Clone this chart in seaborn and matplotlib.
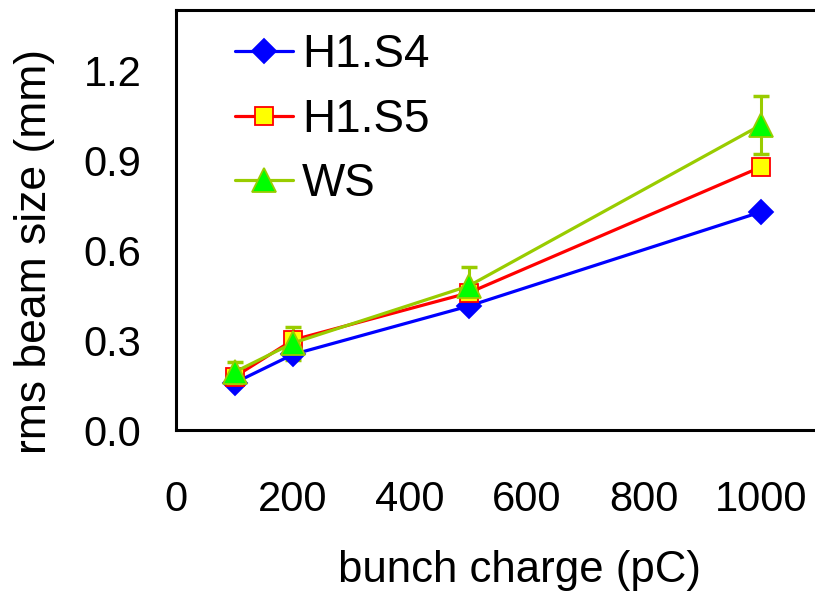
import matplotlib
matplotlib.use("Agg")
import matplotlib.pyplot as plt
import seaborn as sns
import pandas as pd
from matplotlib.lines import Line2D

charge = [100, 200, 500, 1000]
h1s4 = [0.157, 0.252, 0.413, 0.727]
h1s5 = [0.177, 0.300, 0.457, 0.877]
ws = [0.193, 0.290, 0.480, 1.017]
ws_err = [0.033, 0.055, 0.065, 0.098]
series_names = ["H1.S4", "H1.S5", "WS"]
xticks = [0, 200, 400, 600, 800, 1000]
yticks = [0.0, 0.3, 0.6, 0.9, 1.2]

sns.set_style("white")
plt.rcParams['font.family'] = ['Liberation Sans', 'DejaVu Sans']
plt.rcParams['text.color'] = 'black'
plt.rcParams['axes.labelcolor'] = 'black'

W, H = 815, 595
fig = plt.figure(figsize=(W / 100, H / 100), dpi=100)
ax = fig.add_axes([176 / W, (H - 430) / H, (W - 176) / W, 420 / H])

styles = {
    "H1.S4": dict(color="#0000FF", marker="D", ms=12.5, mfc="#0000FF", mec="#0000FF"),
    "H1.S5": dict(color="#FF0000", marker="s", ms=13.5, mfc="#FFFF00", mec="#FF0000"),
    "WS": dict(color="#99CC00", marker="^", ms=17, mfc="#00FF00", mec="#99CC00"),
}
vals = {"H1.S4": h1s4, "H1.S5": h1s5, "WS": ws}

for name in series_names:
    st = styles[name]
    df = pd.DataFrame({"x": charge, "y": vals[name]})
    if name == "WS":
        ax.errorbar(df["x"], df["y"], yerr=ws_err, fmt="none", ecolor=st["color"],
                    elinewidth=2.2, capsize=6, capthick=2.5, zorder=2)
    sns.lineplot(data=df, x="x", y="y", ax=ax, color=st["color"], lw=2.3,
                 marker=st["marker"], markersize=st["ms"],
                 markerfacecolor=st["mfc"], markeredgecolor=st["mec"],
                 markeredgewidth=1.3, zorder=3)

ax.set_xlim(0, 1092)
ax.set_ylim(0, 1.4)
ax.set_xticks(xticks)
ax.set_yticks(yticks)
ax.set_xticklabels([str(v) for v in xticks])
ax.set_yticklabels([f"{v:.1f}" for v in yticks])
ax.tick_params(axis="both", direction="in", length=11, width=1.6, labelsize=30,
               colors="black", labelcolor="black")
ax.tick_params(axis="x", pad=36)
ax.tick_params(axis="y", pad=25)

for s in ["left", "bottom", "top"]:
    ax.spines[s].set_linewidth(2.2)
    ax.spines[s].set_color("black")
ax.spines["right"].set_visible(False)

ax.set_xlabel("bunch charge (pC)", fontsize=31.5, color="black")
ax.set_ylabel("rms beam size (mm)", fontsize=32, color="black")
ax.xaxis.set_label_coords(0.537, -0.285)
ax.yaxis.set_label_coords(-0.19, 0.424)

handles = [Line2D([0], [0], color=styles[n]["color"], lw=2.3, marker=styles[n]["marker"],
                  ms=styles[n]["ms"], mfc=styles[n]["mfc"], mec=styles[n]["mec"], mew=1.3)
           for n in series_names]
ax.legend(handles, series_names, loc="upper left", bbox_to_anchor=(59 / 639, 0.945),
          frameon=False, fontsize=33, handlelength=1.27, handletextpad=0.19,
          labelspacing=0.45, borderpad=0, borderaxespad=0)

fig.savefig("out.png", dpi=100)
